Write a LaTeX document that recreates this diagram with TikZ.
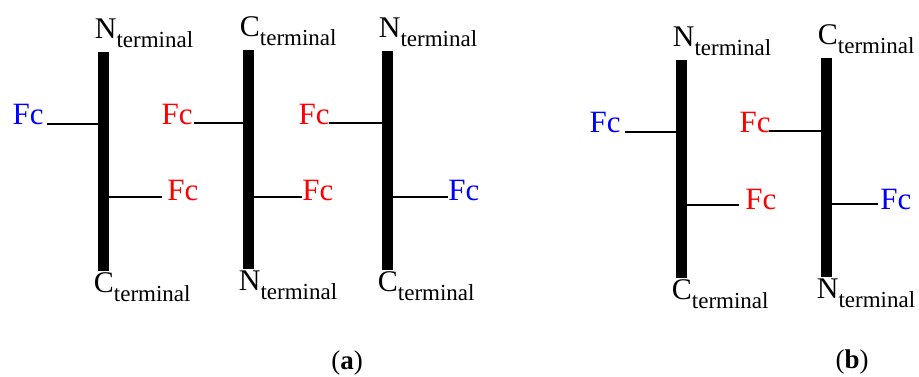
\documentclass[tikz,border=0pt]{standalone}
\usepackage{fontspec}
\setmainfont{Liberation Serif}
\usetikzlibrary{positioning}
\tikzset{
  chainbar/.style={line width=5.25pt,line cap=butt},
  stub/.style={line width=1pt},
  fcred/.style={text=red,font=\fontsize{15.5}{17}\selectfont,inner sep=0pt},
  fcblue/.style={fcred,text=blue},
  toplabel/.style={anchor=base west,inner sep=0pt,xshift=-4.5pt,yshift=7pt},
  botlabel/.style={anchor=base west,inner sep=0pt,xshift=-5pt,yshift=-10.5pt},
  caption/.style={font=\fontsize{13.5}{15}\selectfont,inner sep=0pt},
}
\newcommand{\termlabel}[1]{{\fontsize{15}{17}\selectfont #1}\raisebox{-4.5pt}{\fontsize{11.5}{13}\selectfont terminal}}

\begin{document}
\begin{tikzpicture}[x=0.5pt,y=-0.5pt]
  \useasboundingbox (0,0) rectangle (919,376);

  %% ── (a): three chains ─────────────────────────────────────────────────────
  \coordinate (a1t) at (103.5,52);  \coordinate (a1b) at (103.5,271);
  \coordinate (a2t) at (248.5,50);  \coordinate (a2b) at (248.5,269);
  \coordinate (a3t) at (387.5,51);  \coordinate (a3b) at (387.5,270);
  \draw[chainbar] (a1t) -- (a1b);
  \draw[chainbar] (a2t) -- (a2b);
  \draw[chainbar] (a3t) -- (a3b);

  \node[toplabel] (a1n) at (a1t) {\termlabel{N}};
  \node[botlabel] (a1c) at (a1b) {\termlabel{C}};
  \node[toplabel] (a2c) at (a2t) {\termlabel{C}};
  \node[botlabel] (a2n) at (a2b) {\termlabel{N}};
  \node[toplabel] (a3n) at (a3t) {\termlabel{N}};
  \node[botlabel] (a3c) at (a3b) {\termlabel{C}};

  %% ── (a): Fc stubs ─────────────────────────────────────────────────────────
  \coordinate (a1l) at (47,124);   \coordinate (a1r) at (162,197);
  \coordinate (a2l) at (194,123);  \coordinate (a2r) at (302,197);
  \coordinate (a3l) at (329,123);  \coordinate (a3r) at (448,197);
  \draw[stub] (a1l) -- (a1l -| a1t);
  \draw[stub] (a1r) -- (a1r -| a1t);
  \draw[stub] (a2l) -- (a2l -| a2t);
  \draw[stub] (a2r) -- (a2r -| a2t);
  \draw[stub] (a3l) -- (a3l -| a3t);
  \draw[stub] (a3r) -- (a3r -| a3t);

  \node[fcblue,anchor=base east] (fa1l) at (44,124)  {Fc};
  \node[fcred,anchor=base west]  (fa1r) at (167,200) {Fc};
  \node[fcred,anchor=base east]  (fa2l) at (193,124) {Fc};
  \node[fcred,anchor=base west]  (fa2r) at (302,200) {Fc};
  \node[fcred,anchor=base east]  (fa3l) at (330,124) {Fc};
  \node[fcblue,anchor=base west] (fa3r) at (448,200) {Fc};

  %% ── (b): two chains ───────────────────────────────────────────────────────
  \coordinate (b1t) at (681.5,60);  \coordinate (b1b) at (681.5,278);
  \coordinate (b2t) at (826.5,58);  \coordinate (b2b) at (826.5,277);
  \draw[chainbar] (b1t) -- (b1b);
  \draw[chainbar] (b2t) -- (b2b);

  \node[toplabel] (b1n) at (b1t) {\termlabel{N}};
  \node[botlabel] (b1c) at (b1b) {\termlabel{C}};
  \node[toplabel] (b2c) at (b2t) {\termlabel{C}};
  \node[botlabel] (b2n) at (b2b) {\termlabel{N}};

  %% ── (b): Fc stubs ─────────────────────────────────────────────────────────
  \coordinate (b1l) at (625,132);  \coordinate (b1r) at (739,205);
  \coordinate (b2l) at (769,131);  \coordinate (b2r) at (878,204);
  \draw[stub] (b1l) -- (b1l -| b1t);
  \draw[stub] (b1r) -- (b1r -| b1t);
  \draw[stub] (b2l) -- (b2l -| b2t);
  \draw[stub] (b2r) -- (b2r -| b2t);

  \node[fcblue,anchor=base east] (fb1l) at (621,132) {Fc};
  \node[fcred,anchor=base west]  (fb1r) at (745,209) {Fc};
  \node[fcred,anchor=base east]  (fb2l) at (771,132) {Fc};
  \node[fcblue,anchor=base west] (fb2r) at (880,209) {Fc};

  %% ── captions ──────────────────────────────────────────────────────────────
  \node[caption] (capa) at (347,363) {(\textbf{a})};
  \node[caption] (capb) at (852,362) {(\textbf{b})};

\end{tikzpicture}
\end{document}
